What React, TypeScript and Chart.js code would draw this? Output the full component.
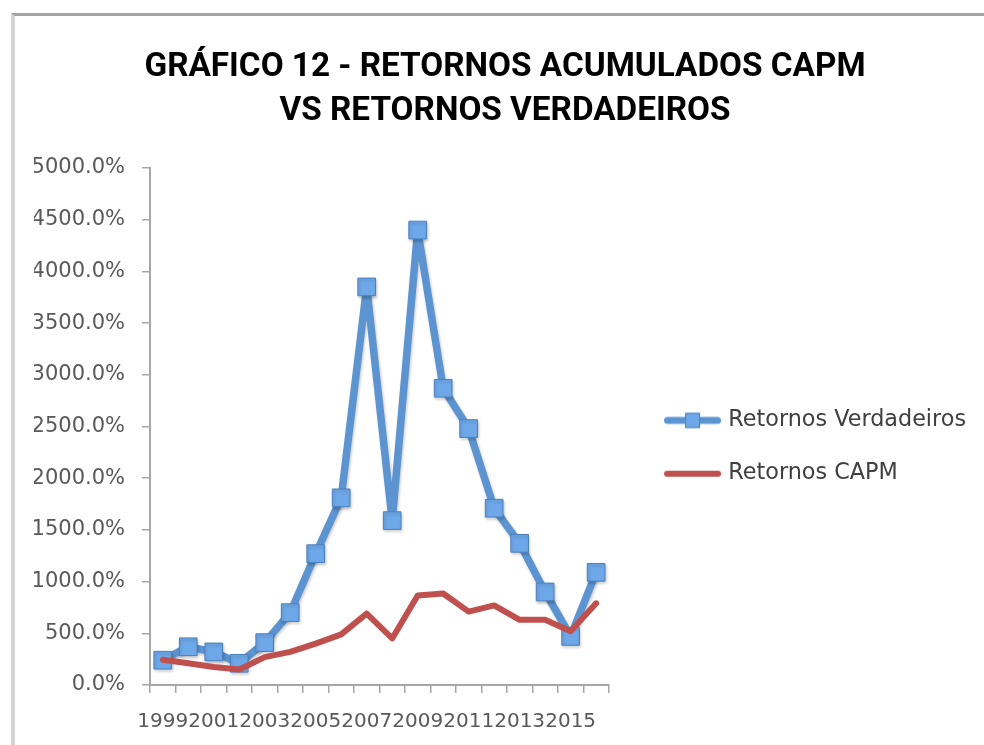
import { useEffect, useRef } from 'react';
import { Chart, registerables } from 'chart.js';

Chart.register(...registerables);

const categories = ['1999', '2000', '2001', '2002', '2003', '2004', '2005', '2006', '2007', '2008', '2009', '2010', '2011', '2012', '2013', '2014', '2015', '2016'];
const retornosVerdadeiros = [240, 370, 320, 210, 410, 700, 1270, 1810, 3850, 1590, 4400, 2870, 2480, 1710, 1370, 900, 470, 1090];
const retornosCAPM = [245, 210, 175, 150, 270, 320, 400, 490, 690, 450, 865, 885, 710, 770, 630, 630, 520, 790];
const seriesNames = ['Retornos Verdadeiros', 'Retornos CAPM'];
const titleLines = ['GRÁFICO 12 - RETORNOS ACUMULADOS CAPM', 'VS RETORNOS VERDADEIROS'];
const yMin = 0;
const yMax = 5000;
const yStep = 500;

const BLUE_LINE = '#5b94d0';
const BLUE_FILL = '#6ea8e8';
const BLUE_EDGE = '#4a80c0';
const RED = '#c0504d';

function makeLegendSymbol(color: string, lineWidth: number, marker: boolean): HTMLCanvasElement {
  const c = document.createElement('canvas');
  c.width = 85;
  c.height = 22;
  const ctx = c.getContext('2d')!;
  const x0 = 28;
  const x1 = 85;
  ctx.strokeStyle = color;
  ctx.lineWidth = lineWidth;
  ctx.lineCap = 'round';
  ctx.beginPath();
  ctx.moveTo(x0 + lineWidth / 2, 11);
  ctx.lineTo(x1 - lineWidth / 2, 11);
  ctx.stroke();
  if (marker) {
    const cx = (x0 + x1) / 2;
    const s = 15;
    ctx.fillStyle = BLUE_FILL;
    ctx.fillRect(cx - s / 2, 11 - s / 2, s, s);
    ctx.strokeStyle = BLUE_EDGE;
    ctx.lineWidth = 1;
    ctx.strokeRect(cx - s / 2 + 0.5, 11 - s / 2 + 0.5, s - 1, s - 1);
  }
  return c;
}

const shadowPlugin = {
  id: 'blueShadow',
  beforeDatasetDraw(chart: any, args: any) {
    if (args.index === 0) {
      const ctx = chart.ctx;
      ctx.save();
      ctx.shadowColor = 'rgba(0,0,0,0.22)';
      ctx.shadowBlur = 3;
      ctx.shadowOffsetX = 1;
      ctx.shadowOffsetY = 2;
    }
  },
  afterDatasetDraw(chart: any, args: any) {
    if (args.index === 0) chart.ctx.restore();
  },
};

export default function App() {
  const ref = useRef<HTMLCanvasElement | null>(null);

  useEffect(() => {
    if (!ref.current) return;
    const symBlue = makeLegendSymbol(BLUE_LINE, 7, true);
    const symRed = makeLegendSymbol(RED, 6, false);

    const chart = new Chart(ref.current, {
      type: 'line',
      plugins: [shadowPlugin],
      data: {
        labels: categories,
        datasets: [
          {
            label: seriesNames[0],
            data: retornosVerdadeiros,
            borderColor: BLUE_LINE,
            backgroundColor: BLUE_FILL,
            borderWidth: 7.5,
            borderJoinStyle: 'round',
            borderCapStyle: 'round',
            tension: 0,
            pointStyle: 'rect',
            pointRadius: 12.5,
            pointBackgroundColor: BLUE_FILL,
            pointBorderColor: BLUE_EDGE,
            pointBorderWidth: 1,
            order: 1,
          },
          {
            label: seriesNames[1],
            data: retornosCAPM,
            borderColor: RED,
            backgroundColor: RED,
            borderWidth: 6,
            borderJoinStyle: 'round',
            borderCapStyle: 'round',
            tension: 0,
            pointRadius: 0,
            order: 0,
          },
        ],
      },
      options: {
        responsive: false,
        animation: false,
        layout: { autoPadding: false, padding: { left: 34, right: 8, top: 0, bottom: 1 } },
        plugins: {
          tooltip: { enabled: false },
          title: {
            display: true,
            text: titleLines,
            color: '#000000',
            font: { family: 'Roboto', weight: 'bold', size: 33.3, lineHeight: 1.3213 },
            padding: { top: 46, bottom: 34 },
          },
          legend: {
            display: true,
            position: 'right',
            fullSize: false,
            maxWidth: 420,
            title: { display: true, text: ' ', padding: 0, font: { size: 30, lineHeight: 1.37 } },
            labels: {
              usePointStyle: true,
              pointStyleWidth: 77.3,
              padding: 31,
              color: '#404040',
              font: { family: 'DejaVu Sans', size: 22.3 },
              generateLabels: () => [
                { text: seriesNames[0], pointStyle: symBlue, fillStyle: BLUE_LINE, strokeStyle: BLUE_LINE, lineWidth: 0, hidden: false, datasetIndex: 0, fontColor: '#404040' } as any,
                { text: seriesNames[1], pointStyle: symRed, fillStyle: RED, strokeStyle: RED, lineWidth: 0, hidden: false, datasetIndex: 1, fontColor: '#404040' } as any,
              ],
            },
          },
        },
        scales: {
          x: {
            type: 'category',
            offset: true,
            afterFit: (scale: any) => { scale.height = 59; },
            grid: {
              offset: true,
              drawOnChartArea: false,
              drawTicks: true,
              tickLength: 8,
              color: '#a6a6a6',
              lineWidth: 1.5,
            },
            border: { display: true, color: '#a6a6a6', width: 2 },
            ticks: {
              autoSkip: false,
              maxRotation: 0,
              minRotation: 0,
              padding: 17,
              color: '#595959',
              font: { family: 'DejaVu Sans', size: 20 },
              callback: (_v: any, i: number) => (i % 2 === 0 ? categories[i] : ''),
            },
          },
          y: {
            min: yMin,
            max: yMax,
            afterFit: (scale: any) => { scale.width = 116; },
            grid: {
              drawOnChartArea: false,
              drawTicks: true,
              tickLength: 8,
              color: '#a6a6a6',
              lineWidth: 1.5,
            },
            border: { display: true, color: '#a6a6a6', width: 2 },
            ticks: {
              stepSize: yStep,
              padding: 17,
              color: '#595959',
              font: { family: 'DejaVu Sans', size: 21 },
              callback: (v: any) => Number(v).toFixed(1) + '%',
            },
          },
        },
      },
    });
    return () => chart.destroy();
  }, []);

  return (
    <div style={{ position: 'absolute', left: 0, top: 0, width: 984, height: 745, background: '#ffffff', overflow: 'hidden' }}>
      <div style={{ position: 'absolute', left: 11, top: 13, width: 1000, height: 800, borderTop: '3px solid #a3a3a3', borderLeft: '4px solid #d4d4d4', boxSizing: 'border-box' }} />
      <canvas ref={ref} width={984} height={745} style={{ position: 'absolute', left: 0, top: 0, display: 'block' }} />
    </div>
  );
}
